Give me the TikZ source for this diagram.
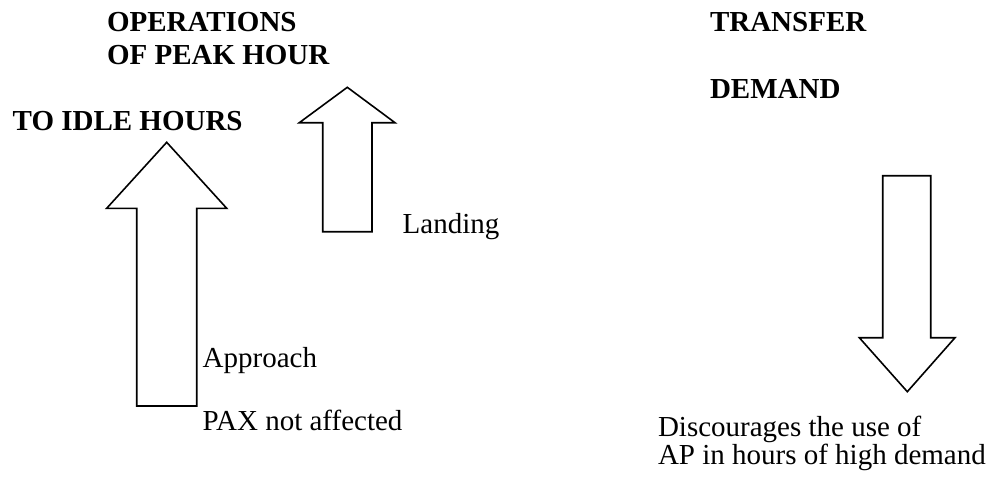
\documentclass[tikz,border=0pt]{standalone}
\usepackage{fontspec}
\setmainfont{Liberation Serif}
\begin{document}
\begin{tikzpicture}[x=1pt,y=-1pt,
  txt/.style={anchor=base west,inner sep=0pt,outer sep=0pt,font=\fontsize{29}{33}\selectfont},
  btxt/.style={txt,font=\fontsize{29}{33}\selectfont\bfseries},
  blockarrow/.style={draw=black,line width=1.6pt,line join=miter,fill=white}]
\useasboundingbox (0,0) rectangle (992,477);
% big up arrow
\draw[blockarrow] (136.7,406) -- (136.7,208.3) -- (106.7,208.3) -- (166.7,142.3)
  -- (226.7,208.3) -- (196.7,208.3) -- (196.7,406) -- cycle;
% small up arrow
\draw[blockarrow] (322.7,231.7) -- (322.7,122.7) -- (299.3,122.7) -- (347.3,87.3)
  -- (395,122.7) -- (372,122.7) -- (372,231.7) -- cycle;
% down arrow
\draw[blockarrow] (882.7,175.7) -- (882.7,337.7) -- (859.3,337.7) -- (907.3,391.7)
  -- (955,337.7) -- (930.7,337.7) -- (930.7,175.7) -- cycle;
% texts
\node[btxt] (ops) at (107,31) {OPERATIONS};
\node[btxt] (peak) at (107,64) {OF PEAK HOUR};
\node[btxt] (idle) at (12.7,130.5) {TO IDLE HOURS};
\node[btxt] (transfer) at (710,31.5) {TRANSFER};
\node[btxt] (demand) at (710,98) {DEMAND};
\node[txt] (landing) at (402.7,233) {Landing};
\node[txt] (approach) at (202.7,367.5) {Approach};
\node[txt] (pax) at (202.7,430) {PAX not affected};
\node[txt] (disc1) at (658,436) {Discourages the use of};
\node[txt] (disc2) at (658,464) {AP in hours of high demand};
\end{tikzpicture}
\end{document}
